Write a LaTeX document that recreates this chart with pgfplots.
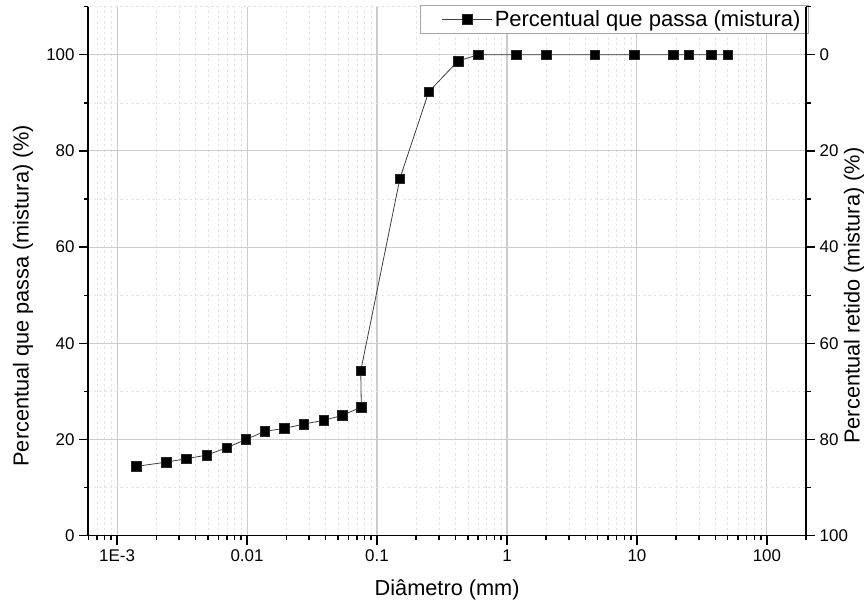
\documentclass[border=0pt]{standalone}
\usepackage{pgfplots}
\pgfplotsset{compat=1.18}
\usepackage{fontspec}
\setmainfont{Liberation Sans}
\begin{document}
\begin{tikzpicture}
\useasboundingbox (-66.2pt,-54.2pt) rectangle (584.8pt,401.75pt);
\begin{axis}[
  scale only axis, width=538.3pt, height=396.75pt,
  xmode=log, xmin=6e-4, xmax=200,
  /pgf/number format/assume math mode=true,
  tick align=outside,
  major tick length=6.75pt, minor tick length=3.4pt,
  every tick/.style={black, line width=1pt},
  axis line style={black, line width=1.2pt},
  tick label style={font=\fontsize{12.7}{15}\selectfont},
  label style={font=\fontsize{16.3}{19}\selectfont},
  axis x line*=bottom, axis y line*=left,
  ymin=0, ymax=110,
  xtick={0.001,0.01,0.1,1,10,100},
  xticklabels={1E-3,0.01,0.1,1,10,100},
  minor xtick={6e-4,7e-4,8e-4,9e-4,0.002,0.003,0.004,0.005,0.006,0.007,0.008,0.009,0.02,0.03,0.04,0.05,0.06,0.07,0.08,0.09,0.2,0.3,0.4,0.5,0.6,0.7,0.8,0.9,2,3,4,5,6,7,8,9,20,30,40,50,60,70,80,90,200},
  ytick={0,20,40,60,80,100},
  minor ytick={10,30,50,70,90,110},
  grid=both,
  major grid style={gray!40, line width=0.8pt},
  minor grid style={gray!22, line width=0.5pt, dash pattern=on 2pt off 2pt},
  xlabel={Diâmetro (mm)},
  xlabel style={at={(axis description cs:0.5,-0.102)}, anchor=center},
  ylabel={Percentual que passa (mistura) (\%)},
  ylabel style={at={(axis description cs:-0.091,0.4537)}, anchor=center, rotate=0},
  legend style={at={(1.004,1.004)}, anchor=north east, draw=gray!70, line width=0.6pt,
    font=\fontsize{16.5}{19}\selectfont, inner xsep=4pt, inner ysep=2pt},
  legend image code/.code={\path (-12pt,0pt); \draw[mark repeat=2,mark phase=2] plot coordinates {(0cm,0cm) (0.65cm,0cm) (1.3cm,0cm)};},
]
\addplot[black!75, line width=0.6pt, mark=square*, mark size=3.6pt,
  mark options={fill=black, draw=black!85, line width=0.4pt}] coordinates {
(0.0014,14.4)
(0.0024,15.3)
(0.0034,16.0)
(0.0049,16.75)
(0.007,18.3)
(0.0098,20.0)
(0.0137,21.7)
(0.0193,22.3)
(0.0273,23.2)
(0.039,24.0)
(0.054,25.0)
(0.0757,26.75)
(0.075,34.3)
(0.15,74.25)
(0.25,92.3)
(0.42,98.7)
(0.6,100)
(1.18,100)
(2.0,100)
(4.75,100)
(9.5,100)
(19,100)
(25,100)
(37.5,100)
(50,100)
};
\addlegendentry{Percentual que passa (mistura)}
\end{axis}
\begin{axis}[
  scale only axis, width=538.3pt, height=396.75pt,
  xmode=log, xmin=6e-4, xmax=200,
  /pgf/number format/assume math mode=true,
  tick align=outside,
  major tick length=6.75pt, minor tick length=3.4pt,
  every tick/.style={black, line width=1pt},
  axis line style={black, line width=1.2pt},
  tick label style={font=\fontsize{12.7}{15}\selectfont},
  label style={font=\fontsize{16.3}{19}\selectfont},
  hide x axis,
  axis y line*=right,
  y dir=reverse,
  ymin=-10, ymax=100,
  ytick={0,20,40,60,80,100},
  minor ytick={-10,10,30,50,70,90},
  ylabel={Percentual retido (mistura) (\%)},
  ylabel style={at={(axis description cs:1.067,0.4537)}, anchor=center, rotate=0},
]
\addplot[draw=none, forget plot] coordinates {(1,50)};
\end{axis}
\end{tikzpicture}
\end{document}
